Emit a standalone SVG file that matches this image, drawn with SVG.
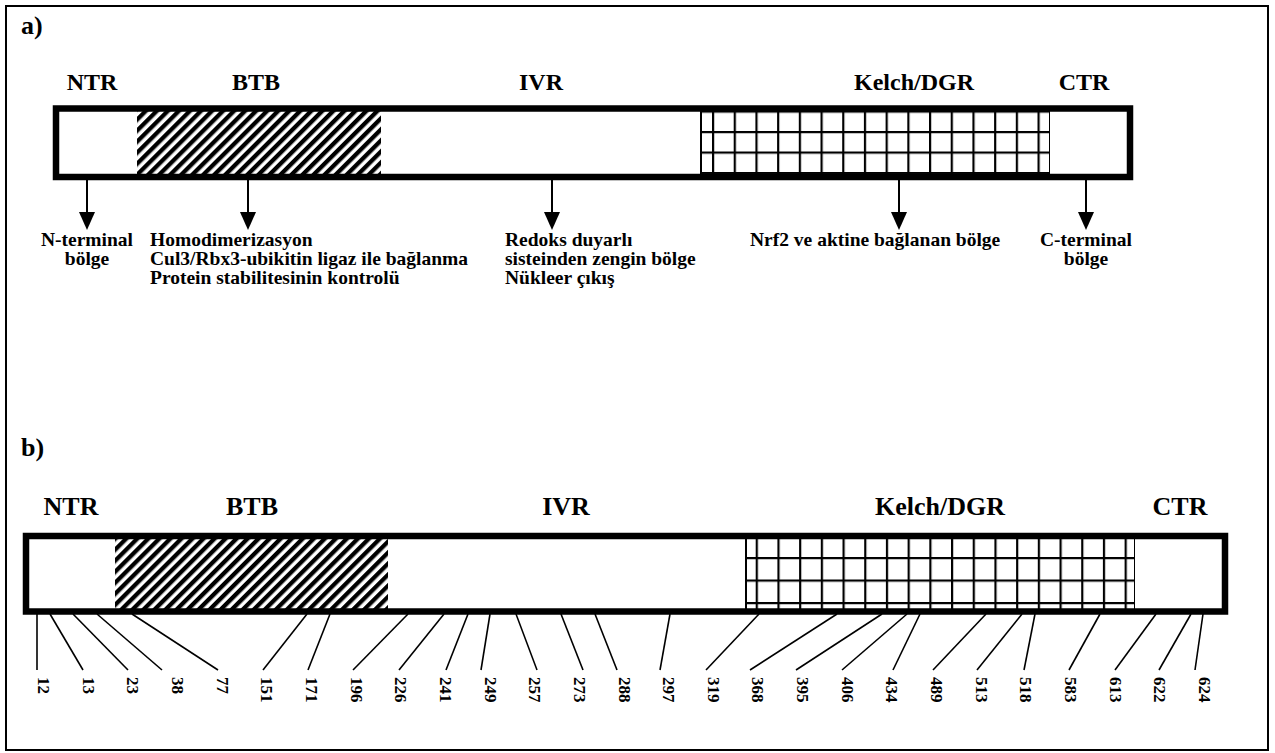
<svg xmlns="http://www.w3.org/2000/svg" width="1275" height="753" viewBox="0 0 1275 753">
<style>
text{font-family:"Liberation Serif","Times New Roman",serif;font-weight:bold;fill:#000}
.lbl{font-size:24px;text-anchor:middle}
.lblb{font-size:26px;text-anchor:middle}
.pl{font-size:26px}
.body{font-size:19.5px}
.mid{text-anchor:middle}
.num{font-size:17px}
.bar{fill:none;stroke:#000;stroke-width:6.5}
.seg{fill:#fff;stroke:none}
.sep{stroke:#000;stroke-width:2}
.arr{stroke:#000;stroke-width:2;fill:none}
.tick{stroke:#000;stroke-width:1.6;fill:none}
</style>
<defs>
<pattern id="hatch" patternUnits="userSpaceOnUse" width="7.8" height="7.8" patternTransform="rotate(45)">
<rect x="0" y="0" width="7.8" height="7.8" fill="#fff"/>
<rect x="0" y="0" width="4.3" height="7.8" fill="#000"/>
</pattern>
<pattern id="gridA" patternUnits="userSpaceOnUse" x="712" y="110.5" width="21.7" height="20.5">
<rect x="0" y="0" width="21.7" height="20.5" fill="#fff"/>
<rect x="0" y="0" width="2.2" height="20.5" fill="#000"/>
<rect x="0" y="0" width="21.7" height="2.2" fill="#000"/>
</pattern>
<pattern id="gridB" patternUnits="userSpaceOnUse" x="755.7" y="557" width="21.7" height="22.5">
<rect x="0" y="0" width="21.7" height="22.5" fill="#fff"/>
<rect x="0" y="0" width="2.2" height="22.5" fill="#000"/>
<rect x="0" y="0" width="21.7" height="2.2" fill="#000"/>
</pattern>
<marker id="ah" markerUnits="userSpaceOnUse" markerWidth="20" markerHeight="18" refX="0" refY="8" orient="auto">
<path d="M0,0 L18,8 L0,16 Z" fill="#000"/>
</marker>
</defs>
<rect x="6" y="6" width="1262" height="744" fill="#fff" stroke="#000" stroke-width="2"/>

<!-- Panel a -->
<text id="label-a" class="pl" x="21" y="34">a)</text>
<g id="a-ntr"><rect class="seg" x="56" y="108" width="81" height="69"/><text class="lbl" x="92" y="90">NTR</text></g>
<g id="a-btb"><rect x="137" y="108" width="244" height="69" fill="url(#hatch)"/><text class="lbl" x="256" y="90">BTB</text></g>
<g id="a-ivr"><rect class="seg" x="381" y="108" width="319" height="69"/><text class="lbl" x="541" y="90">IVR</text></g>
<g id="a-kelch"><rect x="700" y="108" width="350" height="69" fill="url(#gridA)"/><line class="sep" x1="701" y1="108" x2="701" y2="177"/><line class="sep" x1="1050" y1="108" x2="1050" y2="177"/><text class="lbl" x="914" y="90">Kelch/DGR</text></g>
<g id="a-ctr"><rect class="seg" x="1050" y="108" width="80" height="69"/><text class="lbl" x="1084" y="90">CTR</text></g>
<rect id="a-bar" class="bar" x="56" y="108.5" width="1074" height="68.5"/>

<g id="a-desc-ntr"><text class="body mid" x="87" y="246">N-terminal</text><text class="body mid" x="87" y="265">bölge</text></g>
<g id="a-desc-btb"><text class="body" x="150" y="246">Homodimerizasyon</text><text class="body" x="150" y="265">Cul3/Rbx3-ubikitin ligaz ile bağlanma</text><text class="body" x="150" y="284">Protein stabilitesinin kontrolü</text></g>
<g id="a-desc-ivr"><text class="body" x="505" y="246">Redoks duyarlı</text><text class="body" x="505" y="265">sisteinden zengin bölge</text><text class="body" x="505" y="284">Nükleer çıkış</text></g>
<g id="a-desc-kelch"><text class="body" x="750" y="246">Nrf2 ve aktine bağlanan bölge</text></g>
<g id="a-desc-ctr"><text class="body mid" x="1086" y="246">C-terminal</text><text class="body mid" x="1086" y="265">bölge</text></g>

<g id="connectors-a">
<line class="arr" x1="87" y1="180" x2="87" y2="212" marker-end="url(#ah)"/>
<line class="arr" x1="248" y1="180" x2="248" y2="212" marker-end="url(#ah)"/>
<line class="arr" x1="552" y1="180" x2="552" y2="212" marker-end="url(#ah)"/>
<line class="arr" x1="899" y1="180" x2="899" y2="212" marker-end="url(#ah)"/>
<line class="arr" x1="1086" y1="180" x2="1086" y2="212" marker-end="url(#ah)"/>
</g>

<!-- Panel b -->
<text id="label-b" class="pl" x="21" y="456">b)</text>
<g id="b-ntr"><rect class="seg" x="26" y="536" width="89" height="75"/><text class="lblb" x="71" y="515">NTR</text></g>
<g id="b-btb"><rect x="115" y="536" width="273" height="75" fill="url(#hatch)"/><text class="lblb" x="252" y="515">BTB</text></g>
<g id="b-ivr"><rect class="seg" x="388" y="536" width="357" height="75"/><text class="lblb" x="566" y="515">IVR</text></g>
<g id="b-kelch"><rect x="745" y="536" width="390" height="75" fill="url(#gridB)"/><line class="sep" x1="746" y1="536" x2="746" y2="611"/><line class="sep" x1="1135" y1="536" x2="1135" y2="611"/><text class="lblb" x="940" y="515">Kelch/DGR</text></g>
<g id="b-ctr"><rect class="seg" x="1135" y="536" width="90" height="75"/><text class="lblb" x="1180" y="515">CTR</text></g>
<rect id="b-bar" class="bar" x="26" y="536" width="1199" height="75.5"/>

<g id="connectors-b">
<line class="tick" x1="37" y1="614" x2="37" y2="670"/>
<line class="tick" x1="50" y1="614" x2="83" y2="670"/>
<line class="tick" x1="73" y1="614" x2="128" y2="670"/>
<line class="tick" x1="97" y1="614" x2="162" y2="670"/>
<line class="tick" x1="132" y1="614" x2="218" y2="670"/>
<line class="tick" x1="307" y1="614" x2="263" y2="670"/>
<line class="tick" x1="330" y1="614" x2="308" y2="670"/>
<line class="tick" x1="408" y1="614" x2="353" y2="670"/>
<line class="tick" x1="444" y1="614" x2="399" y2="670"/>
<line class="tick" x1="468" y1="614" x2="446" y2="670"/>
<line class="tick" x1="490" y1="614" x2="481" y2="670"/>
<line class="tick" x1="516" y1="614" x2="537" y2="670"/>
<line class="tick" x1="561" y1="614" x2="583" y2="670"/>
<line class="tick" x1="595" y1="614" x2="617" y2="670"/>
<line class="tick" x1="670" y1="614" x2="660" y2="670"/>
<line class="tick" x1="759" y1="614" x2="706" y2="670"/>
<line class="tick" x1="837" y1="614" x2="750" y2="670"/>
<line class="tick" x1="882" y1="614" x2="796" y2="670"/>
<line class="tick" x1="907" y1="614" x2="842" y2="670"/>
<line class="tick" x1="920" y1="614" x2="893" y2="670"/>
<line class="tick" x1="986" y1="614" x2="933" y2="670"/>
<line class="tick" x1="1022" y1="614" x2="977" y2="670"/>
<line class="tick" x1="1035" y1="614" x2="1024" y2="670"/>
<line class="tick" x1="1100" y1="614" x2="1069" y2="670"/>
<line class="tick" x1="1156" y1="614" x2="1115" y2="670"/>
<line class="tick" x1="1191" y1="614" x2="1159" y2="670"/>
<line class="tick" x1="1203" y1="614" x2="1195" y2="670"/>
</g>

<g id="b-positions">
<text class="num" transform="translate(38,677) rotate(90)">12</text>
<text class="num" transform="translate(82.6,677) rotate(90)">13</text>
<text class="num" transform="translate(127.3,677) rotate(90)">23</text>
<text class="num" transform="translate(172,677) rotate(90)">38</text>
<text class="num" transform="translate(216.6,677) rotate(90)">77</text>
<text class="num" transform="translate(261.3,677) rotate(90)">151</text>
<text class="num" transform="translate(305.9,677) rotate(90)">171</text>
<text class="num" transform="translate(350.6,677) rotate(90)">196</text>
<text class="num" transform="translate(395.2,677) rotate(90)">226</text>
<text class="num" transform="translate(439.9,677) rotate(90)">241</text>
<text class="num" transform="translate(484.5,677) rotate(90)">249</text>
<text class="num" transform="translate(529.2,677) rotate(90)">257</text>
<text class="num" transform="translate(573.8,677) rotate(90)">273</text>
<text class="num" transform="translate(618.5,677) rotate(90)">288</text>
<text class="num" transform="translate(663.1,677) rotate(90)">297</text>
<text class="num" transform="translate(707.8,677) rotate(90)">319</text>
<text class="num" transform="translate(752.4,677) rotate(90)">368</text>
<text class="num" transform="translate(797,677) rotate(90)">395</text>
<text class="num" transform="translate(841.7,677) rotate(90)">406</text>
<text class="num" transform="translate(886.4,677) rotate(90)">434</text>
<text class="num" transform="translate(931,677) rotate(90)">489</text>
<text class="num" transform="translate(975.7,677) rotate(90)">513</text>
<text class="num" transform="translate(1020.3,677) rotate(90)">518</text>
<text class="num" transform="translate(1065,677) rotate(90)">583</text>
<text class="num" transform="translate(1109.6,677) rotate(90)">613</text>
<text class="num" transform="translate(1154.3,677) rotate(90)">622</text>
<text class="num" transform="translate(1198.9,677) rotate(90)">624</text>
</g>
</svg>
